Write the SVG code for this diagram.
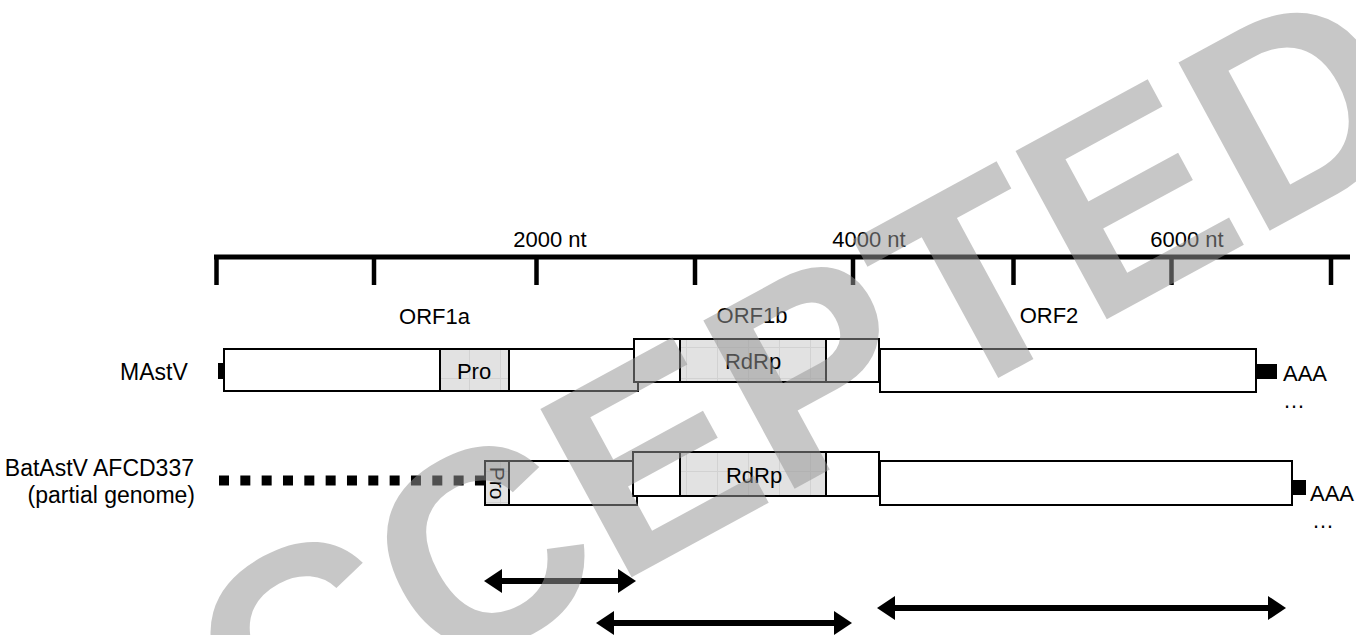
<svg xmlns="http://www.w3.org/2000/svg" width="1356" height="635" viewBox="0 0 1356 635">
<style>
text { font-family: "Liberation Sans", Arial, Helvetica, sans-serif; fill: #000; }
.lbl { font-size: 22px; }
.name { font-size: 23px; }
.box { fill: #fff; stroke: #000; stroke-width: 2; }
.dom { fill: url(#grid); stroke: #000; stroke-width: 2; }
.blk { fill: #000; }
.axis { stroke: #000; stroke-width: 5; fill: none; }
.tick { stroke: #000; stroke-width: 4.5; }
.arr { stroke: #000; stroke-width: 6; fill: none; marker-start: url(#head); marker-end: url(#head); }
.wm { font-family: "Liberation Sans", Arial, sans-serif; font-weight: bold; font-size: 278px; fill: #969696; fill-opacity: 0.53; }
</style>
<defs>
<pattern id="grid" patternUnits="userSpaceOnUse" x="4" y="6" width="31" height="31">
<rect width="31" height="31" fill="#e2e2e2"/>
<path d="M0.5,0 V31 M0,0.5 H31" stroke="#d2d2d2" stroke-width="1"/>
</pattern>
<marker id="head" viewBox="0 0 18 24" refX="1" refY="12" markerWidth="18" markerHeight="24" markerUnits="userSpaceOnUse" orient="auto-start-reverse">
<path d="M0,0 L18,12 L0,24 Z" fill="#000"/>
</marker>
</defs>
<rect width="1356" height="635" fill="#fff"/>

<g id="scale">
<line class="axis" x1="214" y1="257" x2="1350" y2="257"/>
<line class="tick" x1="216.5" y1="257" x2="216.5" y2="285"/>
<line class="tick" x1="374" y1="257" x2="374" y2="285"/>
<line class="tick" x1="536.5" y1="257" x2="536.5" y2="285"/>
<line class="tick" x1="695" y1="257" x2="695" y2="285"/>
<line class="tick" x1="853" y1="257" x2="853" y2="285"/>
<line class="tick" x1="1013.5" y1="257" x2="1013.5" y2="285"/>
<line class="tick" x1="1171.5" y1="257" x2="1171.5" y2="285"/>
<line class="tick" x1="1331" y1="257" x2="1331" y2="285"/>
<text class="lbl" x="550" y="247" text-anchor="middle">2000 nt</text>
<text class="lbl" x="869" y="247" text-anchor="middle">4000 nt</text>
<text class="lbl" x="1187" y="247" text-anchor="middle">6000 nt</text>
</g>

<g id="orf-labels">
<text class="lbl" x="434.5" y="324" text-anchor="middle">ORF1a</text>
<text class="lbl" x="752" y="323" text-anchor="middle">ORF1b</text>
<text class="lbl" x="1049" y="323" text-anchor="middle">ORF2</text>
</g>

<g id="mastv">
<text class="name" x="120" y="380">MAstV</text>
<rect class="blk" x="218" y="363" width="6" height="16"/>
<rect class="box" x="224" y="349" width="414" height="42"/>
<rect class="dom" x="440" y="349" width="69" height="42"/>
<text class="lbl" x="474" y="379" text-anchor="middle">Pro</text>
<rect class="box" x="634" y="339" width="245" height="43"/>
<rect class="dom" x="680" y="339" width="146" height="43"/>
<text class="lbl" x="753" y="369" text-anchor="middle">RdRp</text>
<rect class="box" x="880" y="349" width="376" height="43"/>
<rect class="blk" x="1257" y="364" width="20" height="15"/>
<text class="lbl" x="1283" y="381">AAA</text>
<text class="lbl" x="1283" y="408">…</text>
</g>

<g id="batastv">
<text class="name" x="194" y="476" text-anchor="end">BatAstV AFCD337</text>
<text class="name" x="195" y="503" text-anchor="end">(partial genome)</text>
<line x1="219" y1="480.5" x2="485" y2="480.5" stroke="#000" stroke-width="10" stroke-dasharray="10 11.33"/>
<rect class="box" x="485" y="461" width="152" height="44"/>
<rect class="dom" x="485" y="461" width="24" height="44"/>
<text class="lbl" transform="translate(497,483) rotate(90)" x="0" y="7.5" text-anchor="middle" style="font-size:21px">Pro</text>
<rect class="box" x="633" y="452" width="246" height="44"/>
<rect class="dom" x="680" y="452" width="146" height="44"/>
<text class="lbl" x="754" y="483" text-anchor="middle">RdRp</text>
<rect class="box" x="880" y="461" width="412" height="44"/>
<rect class="blk" x="1293" y="480" width="13" height="15"/>
<text class="lbl" x="1310" y="501">AAA</text>
<text class="lbl" x="1312" y="528">…</text>
</g>

<g id="connectors">
<line class="arr" x1="501" y1="581" x2="619" y2="581"/>
<line class="arr" x1="613" y1="623" x2="835" y2="623"/>
<line class="arr" x1="894" y1="608" x2="1269" y2="608"/>
</g>

<g id="watermark">
<text class="wm" transform="translate(86,873.4) rotate(-28.5)" x="0" y="0">ACCEPTED</text>
</g>
</svg>
